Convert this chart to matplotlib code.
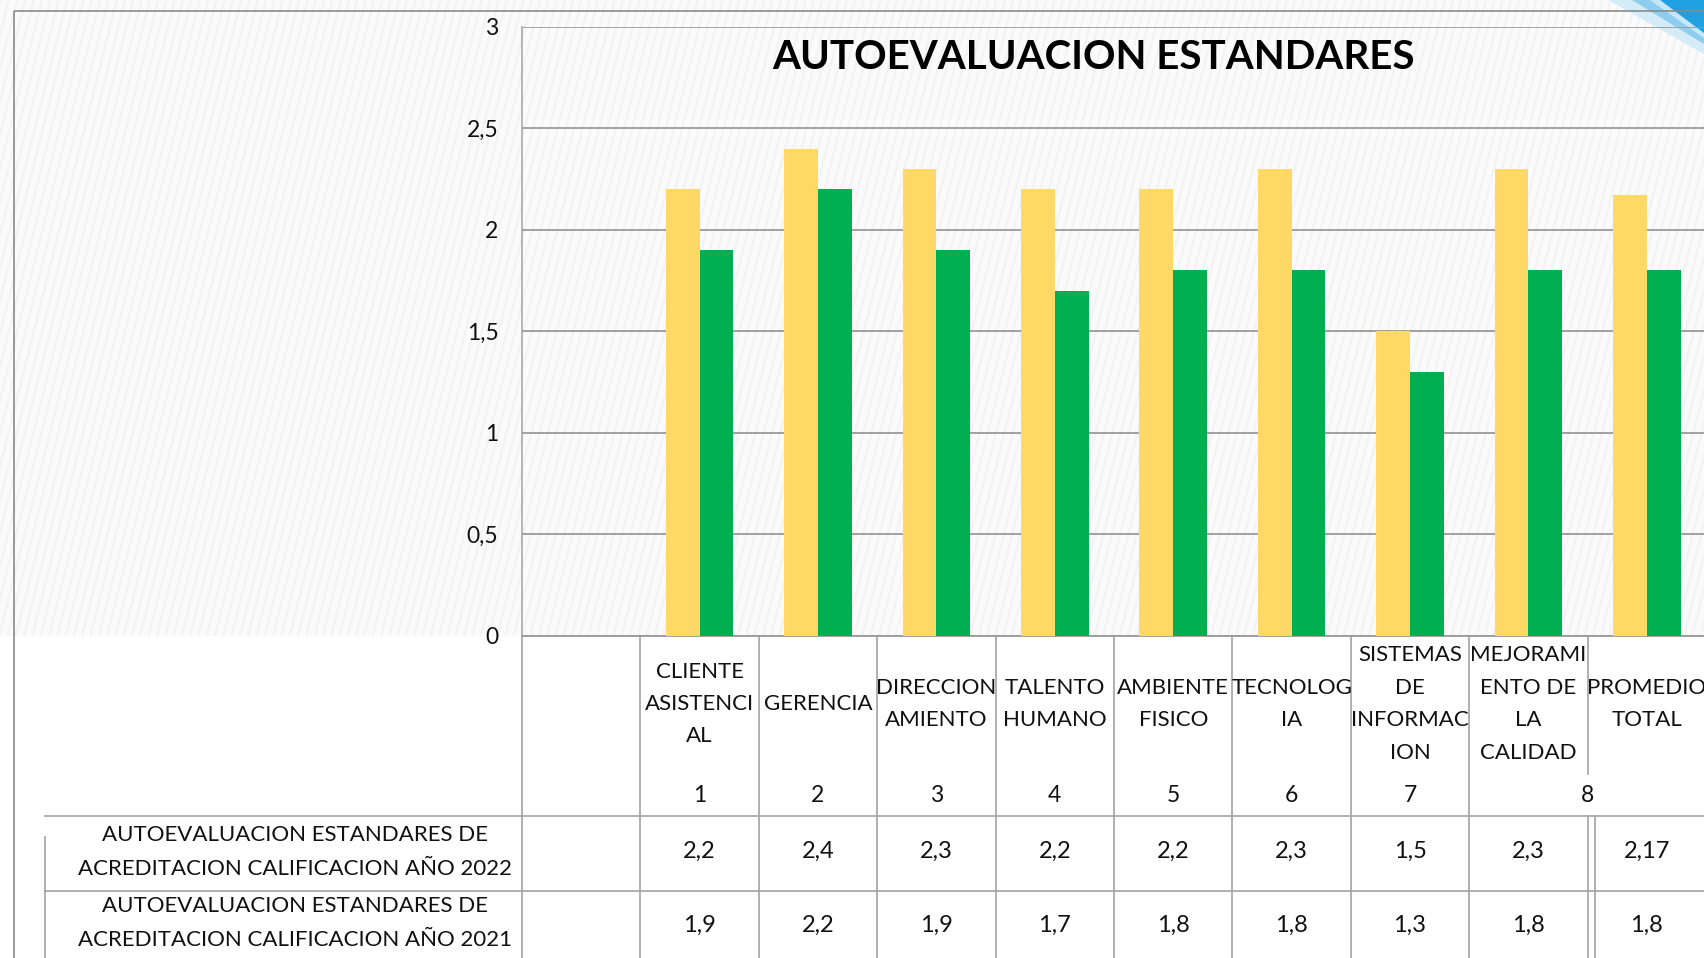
import numpy as np
import matplotlib
matplotlib.use("Agg")
import matplotlib.pyplot as plt
from matplotlib import transforms
from matplotlib.patches import Polygon, Rectangle
from matplotlib.collections import LineCollection

# ---------------- data ----------------
categories = ["CLIENTE\nASISTENCI\nAL", "GERENCIA", "DIRECCION\nAMIENTO", "TALENTO\nHUMANO",
              "AMBIENTE\nFISICO", "TECNOLOG\nIA", "SISTEMAS\nDE\nINFORMAC\nION",
              "MEJORAMI\nENTO DE\nLA\nCALIDAD", "PROMEDIO\nTOTAL"]
numbers = ["1", "2", "3", "4", "5", "6", "7", "8"]
number_pos = [1, 2, 3, 4, 5, 6, 7, 8.5]
values_2022 = [2.2, 2.4, 2.3, 2.2, 2.2, 2.3, 1.5, 2.3, 2.17]
values_2021 = [1.9, 2.2, 1.9, 1.7, 1.8, 1.8, 1.3, 1.8, 1.8]
series_names = ["AUTOEVALUACION ESTANDARES DE\nACREDITACION CALIFICACION AÑO 2022",
                "AUTOEVALUACION ESTANDARES DE\nACREDITACION CALIFICACION AÑO 2021"]
title = "AUTOEVALUACION ESTANDARES"
yticks = [0, 0.5, 1, 1.5, 2, 2.5, 3]

# ---------------- style ----------------
FONT = "Lato"
YELLOW = "#FFD966"
GREEN = "#00B050"
GRID = "#9a9a9a"
LINE = "#a3a3a3"
FRAME = "#8a8a8a"
TXT = "#111111"
plt.rcParams["font.family"] = [FONT, "DejaVu Sans"]

W, H = 1704, 958
L = 522.0          # left edge of plot area (px)
TOP = 26.7         # y=3 (px from top)
BASE = 635.7       # y=0 (px from top)
CW = 118.4         # category width (px)

fig = plt.figure(figsize=(W / 100, H / 100), dpi=100)
fig.patch.set_facecolor("#fbfbfb")

# background / annotation axes in pixel coordinates (top-down)
bg = fig.add_axes([0, 0, 1, 1], zorder=0)
bg.set_xlim(0, W)
bg.set_ylim(H, 0)
bg.axis("off")

# faint diagonal texture of the slide background
x0s = np.arange(-200, W + 10, 8.3)
segs = [[(x0, BASE), (x0 + BASE / 4.0, 0)] for x0 in x0s]
bg.add_collection(LineCollection(segs, colors="#f3f3f3", linewidths=1.6, zorder=0.1))

# main chart axes
ax = fig.add_axes([L / W, (H - BASE) / H, (W - L) / W, (BASE - TOP) / H], zorder=1)
ax.patch.set_alpha(0)
xmax = -0.5 + (W - L) / CW
ax.set_xlim(-0.5, xmax)
ax.set_ylim(0, 3)

x = np.arange(1, len(categories) + 1)
bw = 1 / 3.5
ax.bar(x - bw / 2, values_2022, bw, color=YELLOW, zorder=3)
ax.bar(x + bw / 2, values_2021, bw, color=GREEN, zorder=3)

ax.set_yticks(yticks)
ax.set_yticklabels([f"{t:g}".replace(".", ",") for t in yticks], fontsize=16.5, color=TXT)
ax.set_xticks([])
ax.tick_params(axis="y", length=0, pad=17)
ax.yaxis.grid(True, color=GRID, lw=1.3, zorder=0)
ax.set_axisbelow(True)
for s in ["top", "right"]:
    ax.spines[s].set_visible(False)
ax.spines["left"].set_color(LINE)
ax.spines["bottom"].set_color(GRID)
ax.spines["left"].set_linewidth(1.1)
ax.spines["bottom"].set_linewidth(1.3)

# white table area
bg.add_patch(Rectangle((0, BASE + 1), W, H - BASE, facecolor="white", edgecolor="none", zorder=0.5))

# top-right decoration
bg.add_patch(Polygon([(1608, 0), (W, 0), (W, 54)], closed=True, facecolor="#d4ebf8", edgecolor="none", zorder=1))
bg.add_patch(Polygon([(1632, 0), (W, 0), (W, 44)], closed=True, facecolor="#8fcdef", edgecolor="none", zorder=1))
bg.add_patch(Polygon([(1650, 0), (W, 0), (W, 38)], closed=True, facecolor="#ffffff", edgecolor="none", zorder=1, alpha=0.5))
bg.add_patch(Polygon([(1660, 0), (W, 0), (W, 33)], closed=True, facecolor="#1fa0e0", edgecolor="none", zorder=1))

# outer frame
bg.plot([14, W], [10.5, 10.5], color=FRAME, lw=1.2, zorder=4, solid_capstyle="butt")
bg.plot([14, 14], [10.5, H], color=FRAME, lw=1.2, zorder=4, solid_capstyle="butt")

# title
bg.text(1093, 57, title, ha="center", va="center", fontsize=29, fontweight="bold", color="black", zorder=5)

# ---------------- data table ----------------
tr = transforms.blended_transform_factory(ax.transData, bg.transData)
ROW1, ROW2 = 815.5, 890.5
bg.plot([45, W], [ROW1, ROW1], color=LINE, lw=1.2, zorder=3)
bg.plot([45, W], [ROW2, ROW2], color=LINE, lw=1.2, zorder=3)
bg.plot([45, 45], [837, H], color=LINE, lw=1.2, zorder=3)
bg.plot([L, L], [BASE, H], color=LINE, lw=1.2, zorder=3)
for b in np.arange(0.5, 8.0, 1.0):
    bg.plot([b, b], [BASE, H], color=LINE, lw=1.2, transform=tr, zorder=3)
bg.plot([8.5, 8.5], [BASE, 774], color=LINE, lw=1.2, transform=tr, zorder=3)
dx = 7 / CW
for b in [8.5, 8.5 + dx]:
    bg.plot([b, b], [ROW1, H], color=LINE, lw=1.2, transform=tr, zorder=3)

# header labels
for xi, lab in zip(x, categories):
    bg.text(xi, 704, lab, transform=tr, ha="center", va="center", multialignment="center",
            fontsize=16, linespacing=1.78, color=TXT, zorder=5)
for xp, n in zip(number_pos, numbers):
    bg.text(xp, 795, n, transform=tr, ha="center", va="center", fontsize=16.5, color=TXT, zorder=5)


def fmt(v):
    return f"{v:g}".replace(".", ",")


for xi, v in zip(x, values_2022):
    bg.text(xi, 851, fmt(v), transform=tr, ha="center", va="center", fontsize=17, color=TXT, zorder=5)
for xi, v in zip(x, values_2021):
    bg.text(xi, 925, fmt(v), transform=tr, ha="center", va="center", fontsize=17, color=TXT, zorder=5)

bg.text(295, 852, series_names[0], ha="center", va="center", multialignment="center",
        fontsize=16, linespacing=1.85, color=TXT, zorder=5)
bg.text(295, 923, series_names[1], ha="center", va="center", multialignment="center",
        fontsize=16, linespacing=1.85, color=TXT, zorder=5)

fig.savefig("out.png", dpi=100, facecolor=fig.get_facecolor())
